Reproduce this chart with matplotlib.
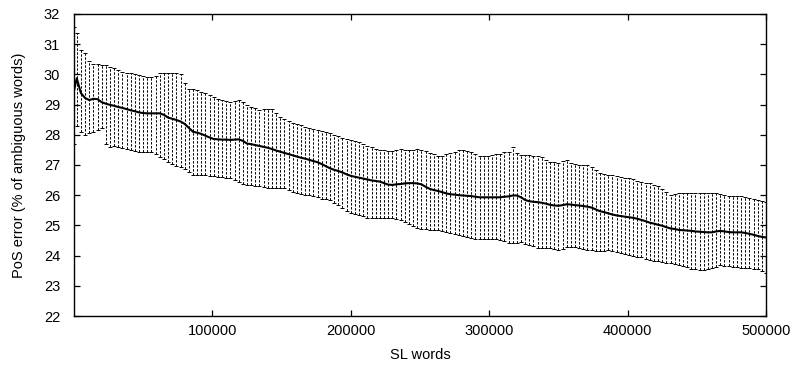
#!/usr/bin/env python3

# PoS error vs. amount of SL text, mean over runs with error bars
# Usage:
#   $ python3 plot.py

import matplotlib
matplotlib.use('Agg')
import matplotlib.pyplot as plt
import numpy as np


# Sample positions (SL words seen)
sl_words = [0] + list(range(2000, 500001, 3000))

# Mean PoS error (% of ambiguous words), one value per sample
mean_err = [
  29.46,
  29.87, 29.38, 29.22, 29.15, 29.19, 29.18, 29.08, 29.03, 28.99, 28.96,
  28.92, 28.89, 28.85, 28.81, 28.78, 28.74, 28.72, 28.71, 28.71, 28.71,
  28.71, 28.66, 28.57, 28.53, 28.49, 28.44, 28.36, 28.23, 28.10, 28.07,
  28.03, 27.97, 27.91, 27.86, 27.85, 27.84, 27.84, 27.83, 27.84, 27.85,
  27.80, 27.71, 27.69, 27.66, 27.63, 27.60, 27.57, 27.53, 27.48, 27.44,
  27.40, 27.36, 27.32, 27.28, 27.24, 27.21, 27.17, 27.13, 27.09, 27.03,
  26.96, 26.89, 26.84, 26.80, 26.75, 26.69, 26.64, 26.61, 26.58, 26.55,
  26.52, 26.49, 26.47, 26.45, 26.40, 26.35, 26.34, 26.36, 26.37, 26.39,
  26.40, 26.40, 26.39, 26.36, 26.28, 26.21, 26.17, 26.14, 26.10, 26.06,
  26.03, 26.02, 26.00, 25.99, 25.98, 25.97, 25.95, 25.93, 25.93, 25.93,
  25.93, 25.93, 25.93, 25.95, 25.96, 25.99, 25.99, 25.93, 25.84, 25.80,
  25.78, 25.77, 25.75, 25.72, 25.68, 25.66, 25.65, 25.67, 25.70, 25.69,
  25.67, 25.66, 25.64, 25.62, 25.59, 25.53, 25.47, 25.44, 25.40, 25.36,
  25.33, 25.31, 25.29, 25.27, 25.25, 25.22, 25.18, 25.14, 25.09, 25.06,
  25.02, 24.99, 24.94, 24.90, 24.88, 24.85, 24.84, 24.83, 24.82, 24.80,
  24.79, 24.78, 24.77, 24.77, 24.80, 24.82, 24.80, 24.78, 24.77, 24.77,
  24.77, 24.75, 24.72, 24.69, 24.65, 24.62, 24.60,
]

# Top of each error bar
upper_err = [
  31.56,
  31.36, 30.80, 30.70, 30.45, 30.36, 30.35, 30.31, 30.30, 30.26, 30.22,
  30.16, 30.09, 30.06, 30.03, 30.01, 29.98, 29.95, 29.92, 29.93, 29.95,
  30.03, 30.04, 30.03, 30.03, 30.03, 30.00, 29.70, 29.53, 29.50, 29.47,
  29.43, 29.38, 29.33, 29.25, 29.18, 29.14, 29.11, 29.08, 29.12, 29.16,
  29.10, 29.00, 28.93, 28.88, 28.83, 28.84, 28.87, 28.85, 28.71, 28.60,
  28.52, 28.45, 28.40, 28.36, 28.32, 28.27, 28.22, 28.19, 28.17, 28.14,
  28.10, 28.05, 28.00, 27.96, 27.91, 27.87, 27.83, 27.80, 27.77, 27.71,
  27.64, 27.58, 27.54, 27.50, 27.48, 27.45, 27.46, 27.49, 27.52, 27.51,
  27.50, 27.51, 27.52, 27.50, 27.46, 27.41, 27.36, 27.31, 27.30, 27.35,
  27.39, 27.44, 27.49, 27.49, 27.46, 27.43, 27.37, 27.31, 27.30, 27.30,
  27.34, 27.38, 27.35, 27.42, 27.44, 27.58, 27.40, 27.33, 27.33, 27.33,
  27.31, 27.29, 27.25, 27.18, 27.11, 27.09, 27.07, 27.12, 27.16, 27.06,
  27.03, 27.00, 27.00, 27.00, 26.95, 26.82, 26.74, 26.70, 26.67, 26.66,
  26.63, 26.61, 26.58, 26.56, 26.53, 26.48, 26.44, 26.42, 26.39, 26.35,
  26.30, 26.22, 26.10, 26.00, 26.04, 26.08, 26.07, 26.06, 26.06, 26.07,
  26.08, 26.08, 26.08, 26.07, 26.06, 26.04, 26.01, 25.98, 25.97, 25.97,
  25.96, 25.93, 25.90, 25.87, 25.84, 25.80, 25.78,
]

# Bottom of each error bar
lower_err = [
  27.70,
  28.30, 28.10, 28.00, 28.05, 28.10, 28.16, 28.23, 27.68, 27.60, 27.62,
  27.60, 27.55, 27.53, 27.50, 27.47, 27.44, 27.44, 27.44, 27.42, 27.38,
  27.28, 27.20, 27.10, 27.04, 26.98, 26.93, 26.86, 26.76, 26.67, 26.67,
  26.67, 26.66, 26.64, 26.62, 26.61, 26.60, 26.58, 26.56, 26.50, 26.43,
  26.37, 26.34, 26.33, 26.32, 26.30, 26.27, 26.25, 26.23, 26.23, 26.23,
  26.23, 26.18, 26.12, 26.07, 26.03, 26.01, 26.00, 25.97, 25.93, 25.89,
  25.87, 25.85, 25.75, 25.66, 25.56, 25.47, 25.40, 25.37, 25.34, 25.30,
  25.26, 25.23, 25.23, 25.23, 25.24, 25.25, 25.24, 25.22, 25.19, 25.11,
  25.03, 24.98, 24.93, 24.89, 24.87, 24.85, 24.85, 24.85, 24.83, 24.78,
  24.74, 24.71, 24.69, 24.65, 24.60, 24.57, 24.56, 24.54, 24.54, 24.55,
  24.55, 24.54, 24.52, 24.48, 24.43, 24.41, 24.43, 24.44, 24.40, 24.36,
  24.31, 24.26, 24.24, 24.24, 24.24, 24.22, 24.20, 24.22, 24.27, 24.29,
  24.27, 24.25, 24.22, 24.20, 24.18, 24.16, 24.15, 24.15, 24.17, 24.16,
  24.12, 24.08, 24.05, 24.02, 24.00, 23.97, 23.94, 23.90, 23.85, 23.83,
  23.81, 23.79, 23.76, 23.74, 23.72, 23.70, 23.66, 23.61, 23.57, 23.55,
  23.52, 23.53, 23.54, 23.58, 23.63, 23.69, 23.66, 23.64, 23.62, 23.61,
  23.60, 23.59, 23.58, 23.56, 23.54, 23.50, 23.41,
]

x_ticks = [100000, 200000, 300000, 400000, 500000]
x_tick_labels = ['100000', '200000', '300000', '400000', '500000']
y_ticks = [22, 23, 24, 25, 26, 27, 28, 29, 30, 31, 32]


def main():

  plt.rcParams['font.family'] = ['Liberation Sans', 'DejaVu Sans']
  plt.rcParams['font.size'] = 10.5

  fig = plt.figure(figsize=(7.99, 3.68), dpi=100)
  ax = fig.add_axes([0.0926, 0.1413, 0.8661, 0.8207])

  xs = np.array(sl_words)
  ys = np.array(mean_err)
  yerr = [ys - np.array(lower_err), np.array(upper_err) - ys]

  # Dashed error bars with small caps
  _, caps, bars = ax.errorbar(xs, ys, yerr=yerr, fmt='none', ecolor='black',
    elinewidth=0.7, capsize=1.5, capthick=0.7, zorder=2)
  for b in bars:
    b.set_linestyle((0, (2.5, 1.6)))

  # Mean line on top
  ax.plot(xs, ys, color='black', lw=1.5, zorder=3)

  ax.set_xlim(0, 500000)
  ax.set_ylim(22, 32)
  ax.set_xticks(x_ticks)
  ax.set_xticklabels(x_tick_labels)
  ax.set_yticks(y_ticks)

  ax.tick_params(direction='in', length=4, width=0.9, top=True, right=True,
    labelsize=10.5)
  ax.tick_params(axis='x', pad=6)
  ax.tick_params(axis='y', pad=10)
  for sp in ax.spines.values():
    sp.set_linewidth(1.0)

  ax.set_xlabel('SL words', fontsize=10.5, labelpad=7)
  ax.set_ylabel('PoS error (% of ambiguous words)', fontsize=10.5, labelpad=13)

  fig.savefig('out.png', dpi=100)


if __name__ == '__main__':
  main()
